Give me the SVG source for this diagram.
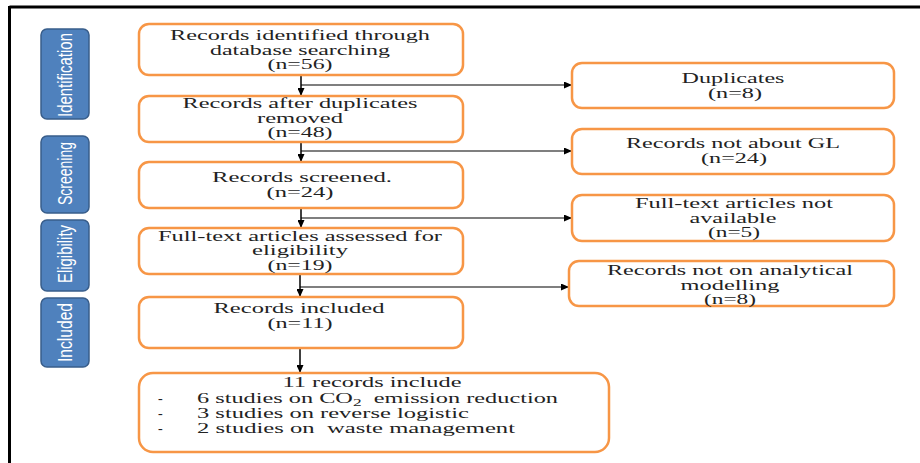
<svg xmlns="http://www.w3.org/2000/svg" width="920" height="463" viewBox="0 0 920 463">
<style>
.box{fill:#fff;stroke:#F79646;stroke-width:2.5}
.lab{fill:#4F81BD;stroke:#385D8A;stroke-width:1.5}
.t{font-family:"Liberation Serif","Times New Roman",serif;font-size:14px;fill:#222;text-anchor:middle}
.tl{font-family:"Liberation Serif","Times New Roman",serif;font-size:14px;fill:#222}
.lt{font-family:"Liberation Sans",Arial,sans-serif;font-size:21px;fill:#fff;text-anchor:middle}
.ln{fill:none;stroke:#000;stroke-width:1.5}
.lnh{fill:none;stroke:#000;stroke-width:1.1}
</style>
<defs>
<marker id="ah" markerUnits="userSpaceOnUse" markerWidth="9" markerHeight="7" refX="8" refY="3.5" orient="auto">
<path d="M0,0 L8,3.5 L0,7 z" fill="#000"/>
</marker>
</defs>
<rect width="920" height="463" fill="#fff"/>
<g id="frame">
<line x1="9.5" y1="7" x2="920" y2="7" stroke="#000" stroke-width="3"/>
<line x1="9.5" y1="6" x2="9.5" y2="463" stroke="#000" stroke-width="3"/>
</g>
<g id="phase-identification">
<rect class="lab" x="41" y="29" width="48" height="90" rx="6"/>
<text class="lt" transform="translate(72,75) rotate(-90)" textLength="84" lengthAdjust="spacingAndGlyphs">Identification</text>
</g>
<g id="phase-screening">
<rect class="lab" x="41" y="136" width="48" height="77" rx="6"/>
<text class="lt" transform="translate(72,173.5) rotate(-90)" textLength="63" lengthAdjust="spacingAndGlyphs">Screening</text>
</g>
<g id="phase-eligibility">
<rect class="lab" x="41" y="220" width="48" height="71" rx="6"/>
<text class="lt" transform="translate(72,254) rotate(-90)" textLength="58" lengthAdjust="spacingAndGlyphs">Eligibility</text>
</g>
<g id="phase-included">
<rect class="lab" x="41" y="298" width="48" height="69" rx="6"/>
<text class="lt" transform="translate(72,332.5) rotate(-90)" textLength="59" lengthAdjust="spacingAndGlyphs">Included</text>
</g>
<g id="connectors">
<line class="ln" x1="301" y1="75" x2="301" y2="96" marker-end="url(#ah)"/>
<line class="lnh" x1="301" y1="85" x2="572" y2="85" marker-end="url(#ah)"/>
<line class="ln" x1="301" y1="142" x2="301" y2="162" marker-end="url(#ah)"/>
<line class="lnh" x1="301" y1="151" x2="572" y2="151" marker-end="url(#ah)"/>
<line class="ln" x1="301" y1="208" x2="301" y2="228" marker-end="url(#ah)"/>
<line class="lnh" x1="301" y1="218" x2="572" y2="218" marker-end="url(#ah)"/>
<line class="ln" x1="300" y1="274" x2="300" y2="297" marker-end="url(#ah)"/>
<line class="lnh" x1="300" y1="287" x2="569" y2="287" marker-end="url(#ah)"/>
<line class="ln" x1="300" y1="348" x2="300" y2="373" marker-end="url(#ah)"/>
</g>
<g id="identified">
<rect class="box" x="139" y="24" width="324" height="51" rx="10"/>
<text class="t" x="300" y="40" textLength="260" lengthAdjust="spacingAndGlyphs">Records identified through</text>
<text class="t" x="300" y="55" textLength="180" lengthAdjust="spacingAndGlyphs">database searching</text>
<text class="t" x="300" y="69" textLength="65" lengthAdjust="spacingAndGlyphs">(n=56)</text>
</g>
<g id="after-duplicates">
<rect class="box" x="139" y="96" width="324" height="46" rx="10"/>
<text class="t" x="300" y="108" textLength="235" lengthAdjust="spacingAndGlyphs">Records after duplicates</text>
<text class="t" x="300" y="123" textLength="86" lengthAdjust="spacingAndGlyphs">removed</text>
<text class="t" x="300" y="137" textLength="65" lengthAdjust="spacingAndGlyphs">(n=48)</text>
</g>
<g id="screened">
<rect class="box" x="139" y="162" width="324" height="46" rx="10"/>
<text class="t" x="302" y="182" textLength="180" lengthAdjust="spacingAndGlyphs">Records screened.</text>
<text class="t" x="300" y="197" textLength="67" lengthAdjust="spacingAndGlyphs">(n=24)</text>
</g>
<g id="assessed">
<rect class="box" x="139" y="228" width="324" height="46" rx="10"/>
<text class="t" x="300" y="241" textLength="284" lengthAdjust="spacingAndGlyphs">Full-text articles assessed for</text>
<text class="t" x="300" y="255" textLength="96" lengthAdjust="spacingAndGlyphs">eligibility</text>
<text class="t" x="300" y="270" textLength="65" lengthAdjust="spacingAndGlyphs">(n=19)</text>
</g>
<g id="included">
<rect class="box" x="139" y="297" width="324" height="51" rx="10"/>
<text class="t" x="299" y="313" textLength="171" lengthAdjust="spacingAndGlyphs">Records included</text>
<text class="t" x="300" y="328" textLength="65" lengthAdjust="spacingAndGlyphs">(n=11)</text>
</g>
<g id="summary">
<rect class="box" x="139" y="373" width="470" height="79" rx="14"/>
<text class="t" x="372" y="387" textLength="179" lengthAdjust="spacingAndGlyphs">11 records include</text>
<text class="tl" x="158" y="403">-</text>
<text class="tl" x="158" y="418">-</text>
<text class="tl" x="158" y="433">-</text>
<text class="tl" x="197" y="403" textLength="361" lengthAdjust="spacingAndGlyphs" xml:space="preserve">6 studies on CO<tspan font-size="10" dy="3">2</tspan><tspan dy="-3">  emission reduction</tspan></text>
<text class="tl" x="197" y="418" textLength="272" lengthAdjust="spacingAndGlyphs">3 studies on reverse logistic</text>
<text class="tl" x="197" y="433" textLength="318" lengthAdjust="spacingAndGlyphs" xml:space="preserve">2 studies on  waste management</text>
</g>
<g id="duplicates">
<rect class="box" x="572" y="63" width="322" height="45" rx="10"/>
<text class="t" x="733" y="83" textLength="103" lengthAdjust="spacingAndGlyphs">Duplicates</text>
<text class="t" x="735" y="98" textLength="54" lengthAdjust="spacingAndGlyphs">(n=8)</text>
</g>
<g id="not-gl">
<rect class="box" x="572" y="129" width="322" height="45" rx="10"/>
<text class="t" x="733" y="148" textLength="214" lengthAdjust="spacingAndGlyphs">Records not about GL</text>
<text class="t" x="734" y="163" textLength="66" lengthAdjust="spacingAndGlyphs">(n=24)</text>
</g>
<g id="not-available">
<rect class="box" x="572" y="195" width="322" height="46" rx="10"/>
<text class="t" x="734" y="208" textLength="198" lengthAdjust="spacingAndGlyphs">Full-text articles not</text>
<text class="t" x="733" y="223" textLength="87" lengthAdjust="spacingAndGlyphs">available</text>
<text class="t" x="734" y="237" textLength="52" lengthAdjust="spacingAndGlyphs">(n=5)</text>
</g>
<g id="not-analytical">
<rect class="box" x="569" y="261" width="325" height="45" rx="10"/>
<text class="t" x="730" y="275" textLength="246" lengthAdjust="spacingAndGlyphs">Records not on analytical</text>
<text class="t" x="730" y="290" textLength="99" lengthAdjust="spacingAndGlyphs">modelling</text>
<text class="t" x="730" y="304" textLength="52" lengthAdjust="spacingAndGlyphs">(n=8)</text>
</g>
</svg>
